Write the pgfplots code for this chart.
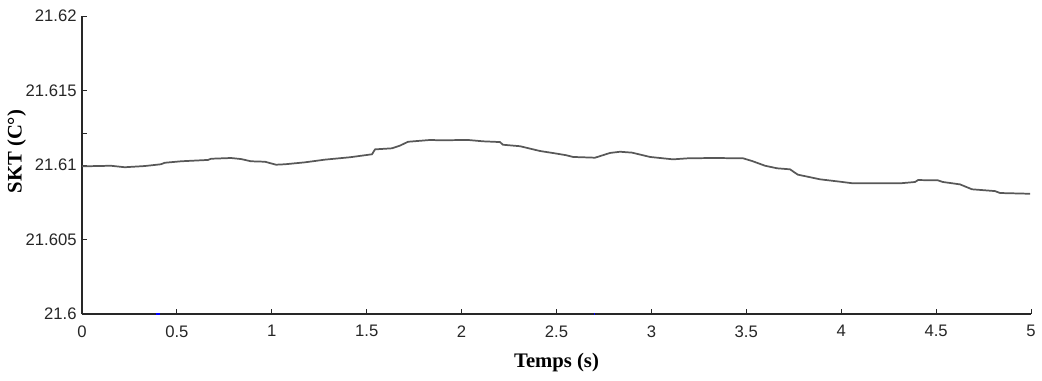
\documentclass[border=0pt]{standalone}
\usepackage{fontspec}
\setmainfont{Liberation Serif}
\newfontfamily\arialfont{Liberation Sans}
\usepackage{pgfplots}
\pgfplotsset{compat=1.18}
\definecolor{curve}{RGB}{88,88,88}
\definecolor{axisc}{RGB}{40,40,40}
\begin{document}
\begin{tikzpicture}
\begin{axis}[
  name=ax,
  scale only axis,
  width=711.75pt, height=223.5pt,
  xmin=0, xmax=5, ymin=21.6, ymax=21.62,
  axis x line=bottom, axis y line=left,
  axis line style={-, axisc, line width=0.9pt},
  tick align=inside,
  major tick length=3.75pt,
  tick style={axisc, line width=0.75pt},
  xtick={0,0.5,1,1.5,2,2.5,3,3.5,4,4.5,5},
  xticklabels={0,0.5,1,1.5,2,2.5,3,3.5,4,4.5,5},
  ytick={21.6,21.605,21.61,21.615,21.62},
  yticklabels={21.6,21.605,21.61,21.615,21.62},
  extra y ticks={21.6121},
  extra y tick labels={},
  scaled y ticks=false, scaled x ticks=false,
  tick label style={font=\arialfont\fontsize{12.5}{14}\selectfont, text=black!85},
  xticklabel style={yshift=-5pt},
  yticklabel style={xshift=-0.5pt},
  xlabel={\textbf{Temps (s)}},
  ylabel={\textbf{SKT (C°)}},
  label style={font=\fontsize{15.5}{18}\selectfont},
  xlabel style={at={(axis description cs:0.5,0)}, anchor=center, yshift=-36.75pt},
  ylabel style={at={(axis description cs:-0.0688,0.545)}, anchor=center},
]
\addplot[curve, line width=1.3pt, sharp plot] coordinates {
(0,21.60991) (0.153,21.60995) (0.225,21.60985) (0.330,21.60993) (0.416,21.61005)
(0.436,21.61015) (0.522,21.61025) (0.664,21.61034) (0.680,21.61042) (0.785,21.61047)
(0.838,21.61040) (0.890,21.61025) (0.964,21.61022) (1.022,21.61002) (1.070,21.61005)
(1.175,21.61018) (1.280,21.61036) (1.412,21.61052) (1.528,21.61072) (1.544,21.61105)
(1.633,21.61112) (1.675,21.61130) (1.718,21.61156) (1.834,21.61168) (1.886,21.61166)
(2.034,21.61168) (2.113,21.61159) (2.202,21.61154) (2.218,21.61136) (2.308,21.61126)
(2.413,21.61094) (2.503,21.61076) (2.550,21.61066) (2.587,21.61054) (2.703,21.61049)
(2.782,21.61081) (2.835,21.61089) (2.898,21.61083) (2.993,21.61054) (3.114,21.61038)
(3.193,21.61045) (3.325,21.61047) (3.483,21.61045) (3.530,21.61027) (3.599,21.60995)
(3.662,21.60978) (3.730,21.60971) (3.772,21.60935) (3.825,21.60921) (3.888,21.60904)
(3.994,21.60888) (4.062,21.60877) (4.310,21.60877) (4.389,21.60886) (4.405,21.60899)
(4.510,21.60897) (4.536,21.60886) (4.626,21.60870) (4.689,21.60837) (4.810,21.60825)
(4.837,21.60812) (4.995,21.60807)
};
\addplot[blue, line width=0.8pt] coordinates {(0.39,21.6) (0.41,21.6)};
\addplot[blue, line width=0.8pt] coordinates {(2.695,21.6) (2.705,21.6)};
\end{axis}
\pgfresetboundingbox
\path[use as bounding box] ([xshift=-61.5pt,yshift=-49.5pt]ax.south west) rectangle ([xshift=8.25pt,yshift=12pt]ax.north east);
\end{tikzpicture}
\end{document}
